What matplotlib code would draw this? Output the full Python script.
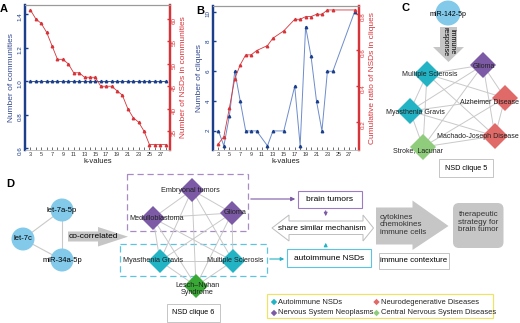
import numpy as np
import matplotlib
matplotlib.use('Agg')
import matplotlib.pyplot as plt
from matplotlib.patches import Polygon, Circle, Rectangle, FancyBboxPatch

plt.rcParams['font.family'] = ['Liberation Sans', 'DejaVu Sans']

# ---- data ----
# A: communities per k
k_a = [3, 4, 5, 6, 7, 8, 9, 10, 11, 12, 13, 14, 15, 16, 17, 18, 19, 20, 21, 22, 23, 24, 25, 26, 27, 28]
n_communities = [1, 1, 1, 1, 1, 1, 1, 1, 1, 1, 1, 1, 1, 1, 1, 1, 1, 1, 1, 1, 1, 1, 1, 1, 1, 1]
n_nsd_comm = [62, 60, 59, 57, 54, 51, 51, 50, 48, 48, 47, 47, 47, 45, 45, 45, 44, 43, 40, 38, 37, 35, 32, 32, 32, 32]
# B: cliques per k
k_b = [3, 4, 5, 6, 7, 8, 9, 10, 12, 13, 15, 17, 18, 19, 20, 21, 22, 23, 24, 28]
n_cliques = [2, 1, 3, 6, 4, 2, 2, 2, 1, 2, 2, 5, 1, 9, 7, 4, 2, 6, 6, 10]
cum_ratio = [0.078, 0.118, 0.276, 0.44, 0.517, 0.572, 0.572, 0.596, 0.624, 0.665, 0.706,
             0.77, 0.77, 0.785, 0.785, 0.798, 0.798, 0.822, 0.822, 0.822]

NAVY = '#1c3f8c'
BLUE_LINE = '#6d8ccc'
RED = '#d7343a'
PURPLE = '#7c5aa6'
TEAL = '#22b3c5'
SALMON = '#e06a68'
LGREEN = '#8fcd7c'
DGREEN = '#39a935'
LBLUE = '#82c9ea'
EDGE = '#c9c9c9'
GRAYARR = '#c6c6c6'

fig = plt.figure(figsize=(5.2, 3.23), dpi=100)


def px_axes(l, t, r, b):
    return fig.add_axes([l / 520, 1 - b / 323, (r - l) / 520, (b - t) / 323])


def style(ax, axr, lc, rc):
    ax.set_xlim(2, 28.8)
    ax.set_xticks(range(2, 29))
    ax.set_xticklabels([str(k) if k % 2 else '' for k in range(2, 29)])
    ax.tick_params(axis='x', labelsize=4, direction='in', length=2, width=0.5, pad=1.5, colors='#333333')
    ax.tick_params(axis='y', labelsize=4.5, direction='in', length=2.5, width=1, pad=1.5,
                   colors=lc, labelrotation=90)
    axr.tick_params(axis='y', labelsize=4.5, direction='in', length=2.5, width=1, pad=1.5,
                    colors=rc, labelrotation=90)
    for a in (ax, axr):
        a.spines['top'].set_color('#9a9a9a')
        a.spines['top'].set_linewidth(0.8)
        a.spines['bottom'].set_color('#bbbbbb')
        a.spines['bottom'].set_linewidth(0.5)
        a.spines['left'].set_color(lc)
        a.spines['left'].set_linewidth(1.6)
        a.spines['right'].set_color(rc)
        a.spines['right'].set_linewidth(1.6)
    ax.set_xlabel('k-values', fontsize=5.5, labelpad=1, color='#222222')


# ---- panel A ----
axA = px_axes(25, 5, 170, 150)
axA2 = axA.twinx()
axA.plot(k_a, n_communities, color=NAVY, lw=0.6, marker='^', ms=1.8, mec=NAVY, mfc=NAVY)
axA2.plot(k_a, n_nsd_comm, color=RED, lw=0.6, marker='^', ms=1.8, mec=RED, mfc=RED)
axA.set_ylim(0.588, 1.454)
axA.set_yticks([0.6, 0.8, 1.0, 1.2, 1.4])
axA2.set_ylim(30.8, 63.1)
axA2.set_yticks([35, 40, 45, 50, 55, 60])
style(axA, axA2, NAVY, RED)
axA.set_ylabel('Number of communities', fontsize=6, color='#33498f', labelpad=2)
axA2.set_ylabel('Number of NSDs in communities', fontsize=6, color=RED, labelpad=2)

# ---- panel B ----
axB = px_axes(213, 6, 359, 150)
axB2 = axB.twinx()
axB.plot(k_b, n_cliques, color=BLUE_LINE, lw=0.7, marker='^', ms=1.8, mec=NAVY, mfc=NAVY)
axB2.plot(k_b, cum_ratio, color=RED, lw=0.6, marker='^', ms=1.8, mec=RED, mfc=RED)
axB.set_ylim(0.72, 10.38)
axB.set_yticks([2, 4, 6, 8, 10])
axB2.set_ylim(0.043, 0.844)
axB2.set_yticks([0.2, 0.4, 0.6, 0.8])
style(axB, axB2, NAVY, RED)
axB.set_ylabel('Number of cliques', fontsize=6, color='#33498f', labelpad=2)
axB2.set_ylabel('Cumulative ratio of NSDs in cliques', fontsize=6, color=RED, labelpad=2)

# ---- overlay for networks / diagram ----
ov = fig.add_axes([0, 0, 1, 1])
ov.set_xlim(0, 520)
ov.set_ylim(323, 0)
ov.axis('off')
ov.patch.set_alpha(0)

for lab, x, y in [('A', 4, 9), ('B', 200, 11), ('C', 406, 8), ('D', 10, 184)]:
    ov.text(x, y, lab, fontsize=8, fontweight='bold', ha='center', va='center')


def diamond(x, y, r, color, z=3):
    ov.add_patch(Polygon([(x - r, y), (x, y - r), (x + r, y), (x, y + r)], closed=True,
                         fc=color, ec='none', zorder=z))


def clique(nodes, r, fs):
    names = list(nodes)
    for i in range(len(names)):
        for j in range(i + 1, len(names)):
            a, b = nodes[names[i]], nodes[names[j]]
            ov.plot([a[0], b[0]], [a[1], b[1]], color=EDGE, lw=0.7, zorder=1)
    for n in names:
        x, y, c, tx, ty = nodes[n]
        diamond(x, y, r, c)
        ov.text(tx, ty, n, fontsize=fs, ha='center', va='center', zorder=4, color='#222222',
                linespacing=1.0)


# panel C
ov.add_patch(Circle((448, 13), 12.5, fc=LBLUE, ec='none', zorder=3))
ov.text(448, 14, 'miR-142-5p', fontsize=5, ha='center', va='center', zorder=4)
ov.add_patch(Polygon([(440, 27), (457, 27), (457, 47), (464, 47), (448.5, 62), (433, 47), (440, 47)],
                     closed=True, fc=GRAYARR, ec='none', zorder=2))
ov.text(448.5, 42, 'immune\nresponse', fontsize=5, rotation=-90, ha='center', va='center',
        zorder=4, linespacing=1.1)
clique5 = {
    'Glioma': (483, 65, PURPLE, 484, 66),
    'Multiple Sclerosis': (427, 74, TEAL, 430, 75),
    'Alzheimer Disease': (505, 98, SALMON, 490, 103),
    'Myasthenia Gravis': (410, 111, TEAL, 415, 113),
    'Machado-Joseph Disease': (495, 136, SALMON, 478, 137),
    'Stroke, Lacunar': (423, 147, LGREEN, 418, 151),
}
clique(clique5, 13, 5)
ov.add_patch(Rectangle((439, 159), 54, 18, fc='white', ec='#bbbbbb', lw=0.6, zorder=5))
ov.text(466, 168, 'NSD clique 5', fontsize=5.2, ha='center', va='center', zorder=6)

# panel D: miRNAs
mirs = {'let-7a-5p': (62, 210), 'let-7c': (23, 239), 'miR-34a-5p': (62, 260)}
for a, b in [('let-7a-5p', 'let-7c'), ('let-7c', 'miR-34a-5p'), ('let-7a-5p', 'miR-34a-5p')]:
    ov.plot([mirs[a][0], mirs[b][0]], [mirs[a][1], mirs[b][1]], color=EDGE, lw=0.8, zorder=1)
for n, (x, y) in mirs.items():
    ov.add_patch(Circle((x, y), 11.5, fc=LBLUE, ec='none', zorder=3))
    ov.text(x, y, n, fontsize=5.5, ha='center', va='center', zorder=4)
ov.add_patch(Polygon([(68, 231.5), (98, 231.5), (98, 227), (128, 236.7), (98, 246.5), (98, 241.5),
                      (68, 241.5)], closed=True, fc=GRAYARR, ec='none', zorder=2))
ov.text(69, 236.5, 'co-correlated', fontsize=6, ha='left', va='center', zorder=4)

# dashed group boxes
ov.add_patch(Rectangle((127, 174), 121, 57, fc='none', ec='#a98bc4', lw=0.9, ls=(0, (5, 3)), zorder=0))
ov.add_patch(Rectangle((120, 244), 147, 32, fc='none', ec='#5cc3e0', lw=0.9, ls=(0, (5, 3)), zorder=0))

clique6 = {
    'Embryonal tumors': (192, 190, PURPLE, 190, 191),
    'Medulloblastoma': (153, 218, PURPLE, 157, 218),
    'Glioma': (232, 213, PURPLE, 235, 213),
    'Myasthenia Gravis': (160, 261, TEAL, 153, 261),
    'Multiple Sclerosis': (233, 261, TEAL, 235, 261),
    'Lesch\u2013Nyhan\nSyndrome': (196, 286, DGREEN, 197, 289),
}
clique(clique6, 12, 5.2)
ov.add_patch(Rectangle((167, 304), 53, 18, fc='white', ec='#bbbbbb', lw=0.6, zorder=5))
ov.text(193.5, 313, 'NSD clique 6', fontsize=5.2, ha='center', va='center', zorder=6)

# flow boxes and arrows
ov.annotate('', xy=(298, 199), xytext=(248, 199),
            arrowprops=dict(arrowstyle='-|>', color=PURPLE, lw=0.8, mutation_scale=6))
ov.add_patch(Rectangle((298, 191), 64, 17, fc='white', ec='#9c7cc0', lw=0.8, zorder=3))
ov.text(330, 199.5, 'brain tumors', fontsize=6, ha='center', va='center', zorder=4)
ov.annotate('', xy=(325.7, 219), xytext=(325.7, 208),
            arrowprops=dict(arrowstyle='-|>', color=PURPLE, lw=0.8, mutation_scale=5))

ov.add_patch(Polygon([(272, 228), (289, 215), (289, 221), (363, 221), (363, 215), (373.5, 228),
                      (363, 241), (363, 234.5), (289, 234.5), (289, 241)], closed=True,
                     fc='white', ec='#bdbdbd', lw=0.7, zorder=2))
ov.text(322, 228, 'share similar mechanism', fontsize=5.8, ha='center', va='center', zorder=4)

ov.annotate('', xy=(287, 259), xytext=(267, 259),
            arrowprops=dict(arrowstyle='-|>', color=TEAL, lw=0.8, mutation_scale=5))
ov.add_patch(Rectangle((287, 249), 84, 18, fc='white', ec='#5cc3e0', lw=0.8, zorder=3))
ov.text(329, 258, 'autoimmune NSDs', fontsize=6, ha='center', va='center', zorder=4)
ov.annotate('', xy=(325.7, 240), xytext=(325.7, 249),
            arrowprops=dict(arrowstyle='-|>', color=TEAL, lw=0.8, mutation_scale=5))

ov.add_patch(Polygon([(376, 207.5), (412.5, 207.5), (412.5, 200.5), (448.5, 226), (412.5, 250),
                      (412.5, 244.5), (376, 244.5)], closed=True, fc=GRAYARR, ec='none', zorder=2))
ov.text(379.5, 225, 'cytokines\nchemokines\nimmune cells', fontsize=5.8, ha='left', va='center',
        zorder=4, linespacing=1.15, color='#333333')
ov.add_patch(Rectangle((379, 253), 70, 16, fc='white', ec='#bbbbbb', lw=0.6, zorder=3))
ov.text(414, 261, 'immune contexture', fontsize=5.7, ha='center', va='center', zorder=4)
ov.add_patch(FancyBboxPatch((456, 206), 44.5, 39, boxstyle='round,pad=3,rounding_size=6',
                            fc=GRAYARR, ec='none', zorder=2))
ov.text(478.5, 222, 'therapeutic\nstrategy for\nbrain tumor', fontsize=5.8, ha='center',
        va='center', zorder=4, linespacing=1.15, color='#333333')

# legend
ov.add_patch(Rectangle((267, 294), 226, 24, fc='white', ec='#eee36a', lw=0.9, zorder=3))
leg = [('Autoimmune NSDs', TEAL, 274, 302), ('Nervous System Neoplasms', PURPLE, 274, 313),
       ('Neurodegenerative Diseases', SALMON, 376.5, 302), ('Central Nervous System Diseases', LGREEN, 376.5, 313)]
for name, c, x, y in leg:
    diamond(x, y, 3.2, c, z=4)
    ov.text(x + 4.5, y, name, fontsize=5.4, ha='left', va='center', zorder=4, color='#222222')

fig.savefig('out.png', dpi=100)
